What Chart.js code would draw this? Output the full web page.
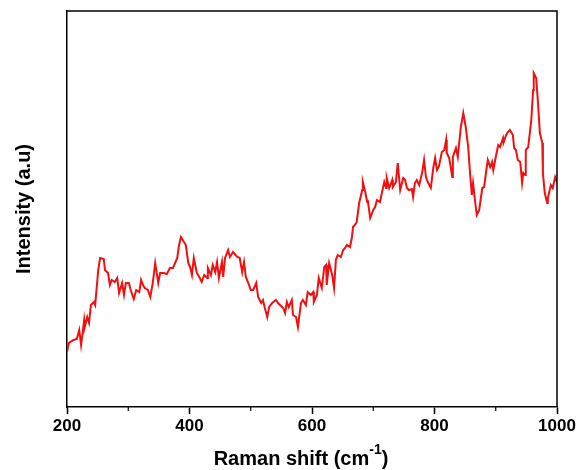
<!DOCTYPE html>
<html>
<head>
<meta charset="utf-8">
<script src="https://cdn.jsdelivr.net/npm/chart.js@4.4.1/dist/chart.umd.min.js"></script>
<style>
  html, body { margin: 0; padding: 0; background: #fff; }
  #wrap { width: 578px; height: 470px; }
</style>
</head>
<body>
<div id="wrap"><canvas id="ramanChart" width="578" height="470"></canvas></div>
<script>
// Raman shift (cm-1)
const shift = [
  200, 203, 211, 216, 220, 223, 228, 229, 233, 236, 239, 244, 246, 251, 254, 260, 262, 267, 270, 273,
  278, 282, 285, 290, 293, 296, 301, 304, 309, 313, 318, 321, 324, 327, 332, 336, 340, 344, 349, 352,
  358, 363, 368, 370, 373, 380, 383, 386, 389, 394, 398, 401, 404, 407, 412, 416, 420, 424, 429, 430,
  435, 438, 442, 445, 448, 453, 455, 458, 463, 466, 471, 478, 482, 486, 489, 492, 496, 500, 504, 509,
  512, 517, 520, 523, 527, 530, 535, 541, 546, 553, 556, 559, 562, 567, 569, 574, 577, 582, 585, 590,
  593, 598, 602, 603, 608, 611, 616, 620, 623, 624, 628, 633, 636, 639, 642, 647, 651, 654, 657, 662,
  665, 667, 670, 673, 677, 682, 683, 687, 690, 691, 695, 700, 703, 706, 711, 714, 718, 721, 722, 726,
  731, 732, 737, 740, 744, 749, 752, 755, 758, 763, 765, 768, 771, 775, 780, 783, 786, 789, 794, 798,
  801, 804, 807, 812, 816, 819, 820, 824, 829, 830, 835, 838, 843, 847, 851, 855, 858, 861, 863, 866,
  869, 873, 878, 881, 884, 887, 891, 894, 896, 900, 904, 907, 912, 913, 917, 920, 923, 928, 930, 933,
  936, 940, 943, 945, 948, 949, 953, 958, 961, 962, 966, 969, 972, 976, 977, 980, 984, 985, 990, 993,
  997, 1000
];

// Intensity (a.u), same order as shift
const intensity = [
  55, 64, 67, 68, 77, 62, 87, 80, 90, 84, 102, 105, 102, 137, 149, 148, 137, 134, 122, 127,
  125, 129, 114, 124, 112, 124, 124, 117, 108, 117, 115, 127, 122, 119, 117, 110, 124, 144, 124, 134,
  134, 133, 139, 139, 139, 149, 162, 170, 167, 162, 144, 140, 132, 149, 134, 130, 125, 132, 129, 139,
  132, 142, 135, 145, 129, 145, 130, 149, 157, 150, 155, 150, 149, 135, 145, 130, 124, 117, 117, 124,
  110, 104, 107, 99, 90, 100, 104, 107, 103, 99, 94, 105, 100, 107, 92, 90, 80, 104, 107, 102,
  115, 112, 115, 105, 112, 129, 119, 140, 142, 122, 144, 132, 119, 147, 152, 150, 157, 159, 162, 160,
  169, 180, 182, 185, 204, 217, 225, 215, 205, 207, 189, 197, 200, 207, 205, 214, 225, 219, 229, 219,
  227, 220, 225, 244, 217, 229, 227, 219, 217, 218, 210, 224, 227, 222, 235, 247, 230, 225, 219, 239,
  249, 237, 240, 255, 257, 267, 254, 249, 230, 250, 259, 250, 280, 294, 280, 260, 234, 212, 224, 207,
  192, 197, 219, 220, 234, 247, 240, 245, 237, 250, 262, 260, 269, 265, 272, 275, 277, 272, 259, 257,
  247, 245, 224, 234, 232, 257, 260, 287, 317, 334, 329, 304, 274, 264, 234, 214, 204, 209, 222, 219,
  230, 225
];

const xTicks = [200, 400, 600, 800, 1000];
const xMinorTicks = [300, 500, 700, 900];

const fontFamily = "Arial, 'Liberation Sans', sans-serif";

let points = shift.map((s, i) => ({ x: s, y: intensity[i] }));

// top/right frame, minor ticks and the x title with superscript
const extras = {
  id: 'extras',
  afterDraw(chart) {
    const ctx = chart.ctx;
    const area = chart.chartArea;
    const xScale = chart.scales.x;

    ctx.save();
    ctx.strokeStyle = '#000';
    ctx.lineWidth = 1.5;
    ctx.beginPath();
    ctx.moveTo(area.left, area.top);
    ctx.lineTo(area.right, area.top);
    ctx.lineTo(area.right, area.bottom);
    ctx.stroke();

    ctx.lineWidth = 1.2;
    xMinorTicks.forEach(v => {
      let px = xScale.getPixelForValue(v);
      ctx.beginPath();
      ctx.moveTo(px, area.bottom);
      ctx.lineTo(px, area.bottom + 4);
      ctx.stroke();
    });

    // x axis title
    const main = 'Raman shift (cm';
    const sup = '-1';
    const tail = ')';
    ctx.fillStyle = '#000';
    ctx.textBaseline = 'middle';
    ctx.font = 'bold 20px ' + fontFamily;
    let wMain = ctx.measureText(main).width;
    let wTail = ctx.measureText(tail).width;
    ctx.font = 'bold 14px ' + fontFamily;
    let wSup = ctx.measureText(sup).width;
    let total = wMain + wSup + wTail;
    let cx = 301;
    let x0 = cx - total / 2;
    let y0 = 459;
    ctx.textAlign = 'left';
    ctx.font = 'bold 20px ' + fontFamily;
    ctx.fillText(main, x0, y0);
    ctx.font = 'bold 14px ' + fontFamily;
    ctx.fillText(sup, x0 + wMain, y0 - 9);
    ctx.font = 'bold 20px ' + fontFamily;
    ctx.fillText(tail, x0 + wMain + wSup, y0);
    ctx.restore();
  }
};

const ctx = document.getElementById('ramanChart');

const dataset = {
  datasets: [{
    label: 'Raman',
    data: points,
    borderColor: 'rgb(240, 16, 16)',
    borderWidth: 2,
    pointRadius: 0,
    fill: false,
    tension: 0
  }]
};

const config = {
  type: 'line',
  data: dataset,
  options: {
    responsive: false,
    animation: false,
    layout: { padding: { top: 11, right: 21, left: 0, bottom: 0 } },
    plugins: {
      legend: { display: false },
      tooltip: { enabled: false }
    },
    scales: {
      x: {
        type: 'linear',
        min: 200,
        max: 1000,
        afterBuildTicks: (scale) => {
          scale.ticks = xTicks.map(v => ({ value: v }));
        },
        afterFit: (scale) => { scale.height = 63; },
        grid: {
          drawOnChartArea: false,
          drawTicks: true,
          tickLength: 7,
          tickColor: '#000',
          tickWidth: 1.5
        },
        border: { color: '#000', width: 1.5 },
        ticks: {
          color: '#000',
          padding: 2,
          maxRotation: 0,
          callback: (value) => String(value),
          font: { family: fontFamily, size: 17, weight: 'bold' }
        }
      },
      y: {
        min: 0,
        max: 396,
        afterFit: (scale) => { scale.width = 67; },
        grid: { display: false },
        border: { color: '#000', width: 1.5 },
        ticks: { display: false },
        title: {
          display: true,
          text: 'Intensity (a.u)',
          color: '#000',
          align: 'center',
          padding: { top: 12, bottom: 0 },
          font: { family: fontFamily, size: 20, weight: 'bold' }
        }
      }
    }
  },
  plugins: [extras]
};

const chart = new Chart(ctx, config);
</script>
</body>
</html>
